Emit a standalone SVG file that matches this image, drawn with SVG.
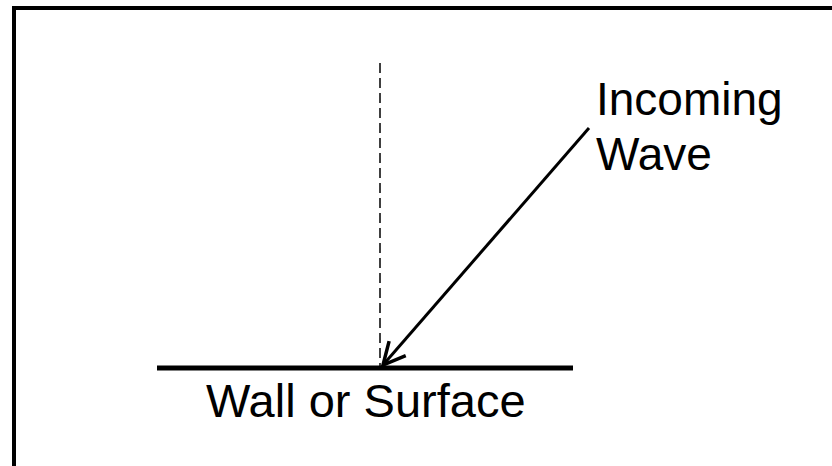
<svg xmlns="http://www.w3.org/2000/svg" width="832" height="466" viewBox="0 0 832 466">
<defs>
<style>
.lbl{font-family:"Liberation Sans",Arial,sans-serif;font-size:46px;fill:#000}
.ln{stroke:#000;fill:none}
</style>
<marker id="open" viewBox="0 0 28 28" refX="26" refY="14" markerWidth="28" markerHeight="28" markerUnits="userSpaceOnUse" orient="auto">
<path d="M4,3 L26,14 L4,25" fill="none" stroke="#000" stroke-width="3.5"/>
</marker>
</defs>
<rect x="0" y="0" width="832" height="466" fill="#fff"/>
<rect id="frame" x="14" y="8" width="830" height="470" class="ln" stroke-width="4"/>
<g id="wall">
<line x1="157" y1="368" x2="573" y2="368" class="ln" stroke-width="5"/>
<text class="lbl" x="206" y="417" style="font-size:47px">Wall or Surface</text>
</g>
<g id="normal">
<line x1="380" y1="63" x2="380" y2="366" class="ln" stroke-width="1.5" stroke-dasharray="10,5"/>
</g>
<g id="wave">
<text class="lbl" x="596" y="115">Incoming</text>
<text class="lbl" x="596" y="170">Wave</text>
</g>
<g id="connectors">
<line x1="589" y1="128" x2="383" y2="365" class="ln" stroke-width="3" marker-end="url(#open)"/>
</g>
</svg>
